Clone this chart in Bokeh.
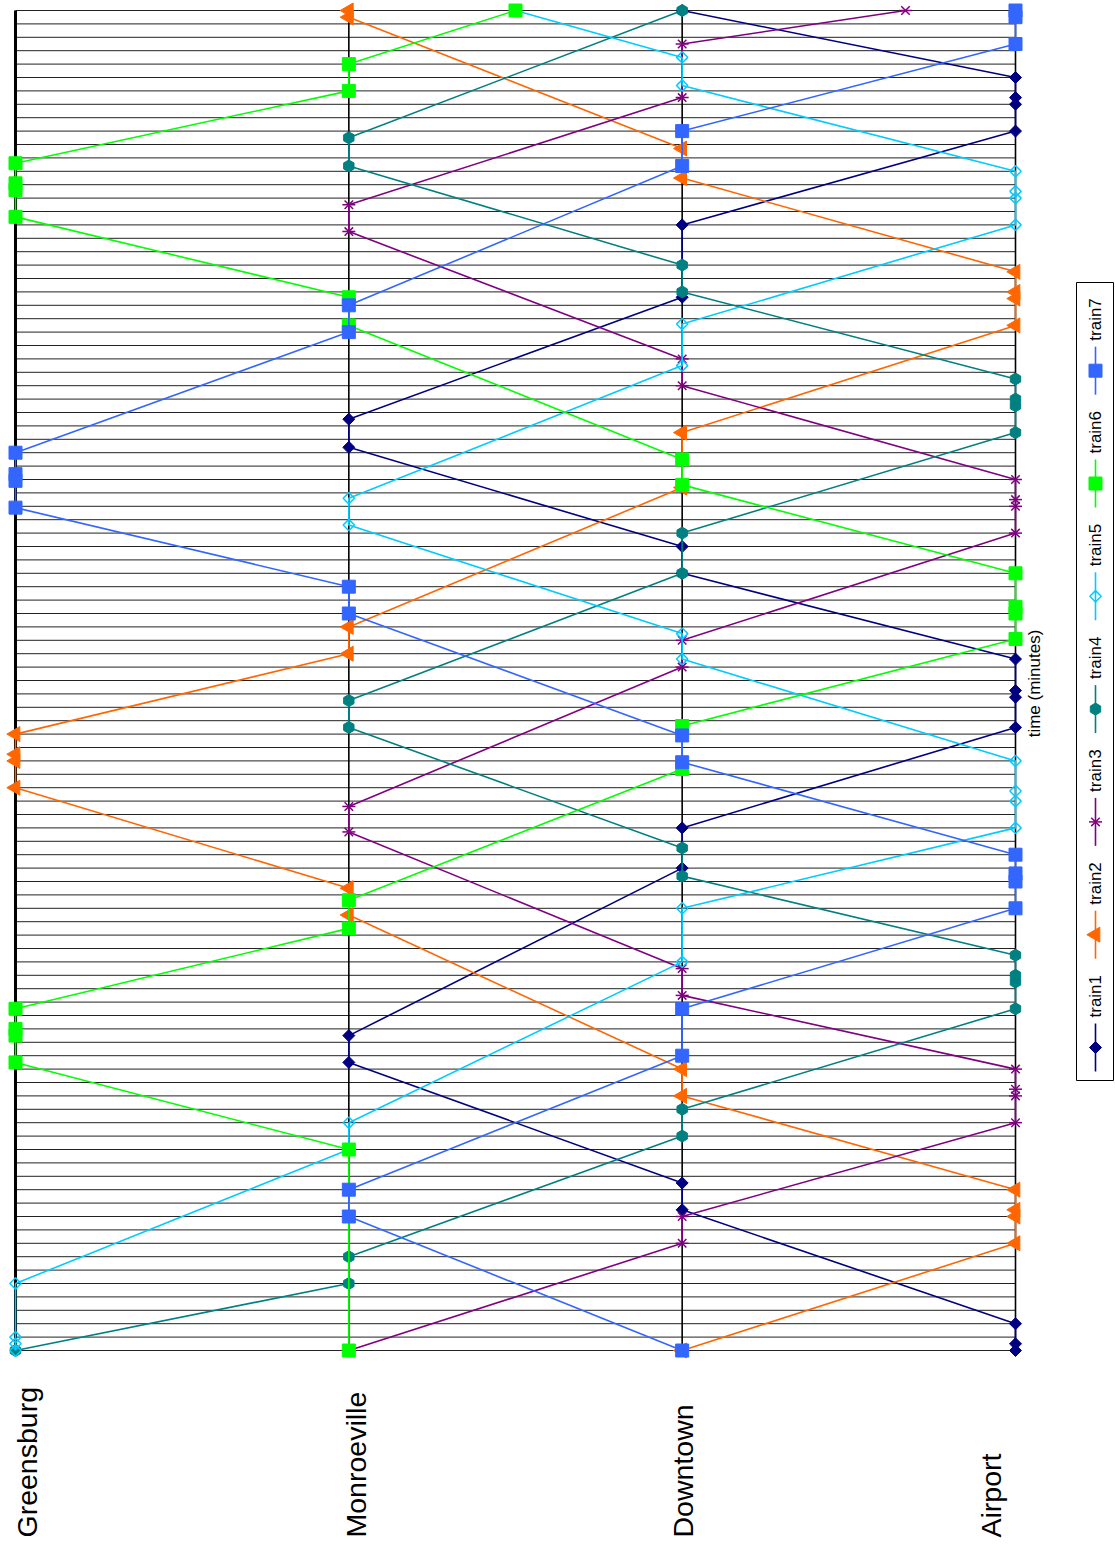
import numpy as np
from bokeh.plotting import figure
from bokeh.models import Range1d
from bokeh.core.properties import value
from bokeh.embed import file_html
from bokeh.resources import INLINE

# ---------------- data ----------------
stations = ["Greensburg", "Monroeville", "Downtown", "Airport"]
station_pos = [0, 1, 2, 3]
time_grid = list(range(0, 101))   # minutes

train_names = ["train1", "train2", "train3", "train4", "train5", "train6", "train7"]

train1_pos = [3, 3, 3, 2, 2, 1, 1, 2, 2, 3, 3, 3, 3, 2, 2, 1, 1, 2, 2, 3, 3, 3, 3, 2]
train1_time = [0, 0.5, 2, 10.5, 12.5, 21.5, 23.5, 36, 39, 46.5, 48.75, 49.25, 51.6, 58, 60, 67.4, 69.5, 78.6, 84, 91, 93, 93.5, 95, 100]

train2_pos = [2, 3, 3, 3, 3, 2, 2, 1, 1, 0, 0, 0, 0, 1, 1, 2, 2, 3, 3, 3, 3, 2, 2, 1, 1]
train2_time = [0, 8, 10, 10.5, 12, 19, 21, 32.5, 34.5, 42, 44, 44.5, 46, 52, 54, 64.4, 68.5, 76.5, 78.5, 79, 80.5, 87.5, 89.7, 99.5, 100]

train3_pos = [1, 2, 2, 3, 3, 3, 3, 2, 2, 1, 1, 2, 2, 3, 3, 3, 3, 2, 2, 1, 1, 2, 2, 2.67]
train3_time = [0, 8, 10, 17, 19, 19.5, 21, 26.5, 28.5, 38.7, 40.6, 51, 53, 61, 63, 63.5, 65, 72, 74, 83.5, 85.5, 93.5, 97.5, 100]

train4_pos = [0, 1, 1, 2, 2, 3, 3, 3, 3, 2, 2, 1, 1, 2, 2, 3, 3, 3, 3, 2, 2, 1, 1, 2]
train4_time = [0, 5, 7, 16, 18, 25.5, 27.5, 28, 29.5, 35.4, 37.5, 46.5, 48.5, 58, 61, 68.5, 70.5, 71, 72.5, 79, 81, 88.4, 90.5, 100]

train5_pos = [0, 0, 0, 0, 1, 1, 2, 2, 3, 3, 3, 3, 2, 2, 1, 1, 2, 2, 3, 3, 3, 3, 2, 2, 1.5]
train5_time = [0, 0.5, 1, 5, 15, 17, 29, 33, 39, 41, 41.75, 44, 51.6, 53.5, 61.6, 63.6, 73.5, 76.6, 84, 86, 86.5, 88, 94.4, 96.5, 100]

train6_pos = [1, 1, 0, 0, 0, 0, 1, 1, 2, 2, 3, 3, 3, 3, 2, 2, 1, 1, 0, 0, 0, 0, 1, 1, 1.5]
train6_time = [0, 15, 21.5, 23.5, 24, 25.5, 31.5, 33.6, 43.4, 46.6, 53.1, 55, 55.5, 58, 64.6, 66.5, 76.5, 78.6, 84.6, 86.6, 87.1, 88.6, 94, 96, 100]

train7_pos = [2, 1, 1, 2, 2, 3, 3, 3, 3, 2, 2, 1, 1, 0, 0, 0, 0, 1, 1, 2, 2, 3, 3, 3]
train7_time = [0, 10, 12, 22, 25.5, 33, 35, 35.6, 37, 43.9, 45.9, 55, 57, 62.9, 64.9, 65.4, 67, 76, 78, 88.4, 91, 97.5, 99.5, 100]

train_pos = [train1_pos, train2_pos, train3_pos, train4_pos, train5_pos, train6_pos, train7_pos]
train_time = [train1_time, train2_time, train3_time, train4_time, train5_time, train6_time, train7_time]

train_colors = ["#000080", "#FF6600", "#800080", "#008080", "#00CCFF", "#00FF00", "#3366FF"]

# ---------------- layout helpers (page px -> data) ----------------
W, H = 1115, 1544
PX_PER_STATION = 1000.0 / 3.0
PX_PER_MIN = 13.4
def X(sx):
    return (sx - 15.0) / PX_PER_STATION
def T(sy):
    return (1350.0 - sy) / PX_PER_MIN

p = figure(width=W, height=H,
           x_range=Range1d(X(0), X(W)), y_range=Range1d(T(H), T(0)),
           output_backend="svg", toolbar_location=None,
           x_axis_location=None, y_axis_location=None, min_border=0)
p.grid.visible = False
p.outline_line_color = None
p.background_fill_color = "white"
p.border_fill_color = "white"

FONT = value("Liberation Sans")

# time grid lines (horizontal)
p.segment(x0=[station_pos[0]] * len(time_grid), x1=[station_pos[-1]] * len(time_grid),
          y0=time_grid, y1=time_grid, line_color="#222222", line_width=1)

# station lines
for i, s in enumerate(station_pos):
    p.line(x=[s, s], y=[time_grid[0], time_grid[-1]], line_color="black",
           line_width=3 if i == 0 else 1.6)

# ---------------- trains ----------------
def draw_marker(xs, ys, k):
    c = train_colors[k]
    if k == 0:
        p.scatter(xs, ys, marker="square", angle=np.pi / 4, size=8.5, fill_color=c, line_color=c)
    elif k == 1:
        p.scatter(xs, ys, marker="triangle", angle=np.pi / 2, size=15, fill_color=c, line_color=c)
    elif k == 2:
        p.scatter(xs, ys, marker="x", size=12, line_color=c, line_width=1.5)
        p.scatter(xs, ys, marker="dash", size=13, line_color=c, line_width=1.5)
    elif k == 3:
        p.scatter(xs, ys, marker="hex", angle=np.pi / 2, size=12, fill_color=c, line_color=c)
    elif k == 4:
        p.scatter(xs, ys, marker="square", angle=np.pi / 4, size=8, fill_alpha=0,
                  line_color=c, line_width=1.5)
    else:
        p.scatter(xs, ys, marker="square", size=13, fill_color=c, line_color=c)

for k in range(7):
    p.line(train_pos[k], train_time[k], line_color=train_colors[k], line_width=1.6)
    draw_marker(train_pos[k], train_time[k], k)

# ---------------- station labels ----------------
label_center_sx = [26, 355, 682, 990]
p.text(x=[X(v) for v in label_center_sx], y=[T(1537)] * 4, text=stations,
       angle=np.pi / 2, text_font=FONT, text_font_size="28.5px",
       text_align="left", text_baseline="middle", text_color="black")

# axis title
p.text(x=[X(1034)], y=[T(683)], text=["time (minutes)"], angle=np.pi / 2,
       text_font=FONT, text_font_size="17px", text_align="center",
       text_baseline="middle", text_color="black")

# ---------------- legend (rotated, drawn by hand) ----------------
lx0, lx1 = 1076, 1113
ly0, ly1 = 282, 1080
p.line(x=[X(lx0), X(lx1), X(lx1), X(lx0), X(lx0)],
       y=[T(ly0), T(ly0), T(ly1), T(ly1), T(ly0)], line_color="black", line_width=1)
lcx = 1095
for k, name in enumerate(train_names):
    my = 1047 - 112.8 * k
    p.line(x=[X(lcx), X(lcx)], y=[T(my - 24), T(my + 24)], line_color=train_colors[k], line_width=1.6)
    draw_marker([X(lcx)], [T(my)], k)
    p.text(x=[X(lcx)], y=[T(my - 30)], text=[name], angle=np.pi / 2,
           text_font=FONT, text_font_size="17px", text_align="left",
           text_baseline="middle", text_color="black")

open("out.html", "w").write(file_html(p, INLINE))
